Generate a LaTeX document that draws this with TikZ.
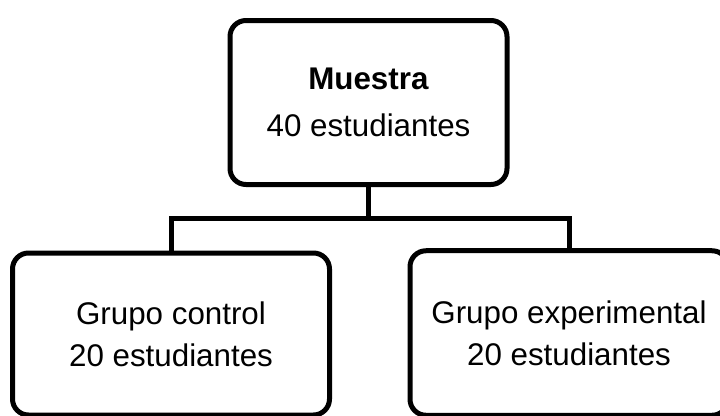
\documentclass[tikz,border=0pt]{standalone}
\usepackage{fontspec}
\setmainfont{Liberation Sans}
\begin{document}
\begin{tikzpicture}[x=0.75pt,y=-0.75pt,
  box/.style={draw=black,line width=3.75pt,rounded corners=12pt,fill=white,
    align=center,inner sep=0pt,font=\fontsize{23.5pt}{31.7pt}\selectfont},
  topbox/.style={box,font=\fontsize{23.5pt}{34.9pt}\selectfont},
  conn/.style={draw=black,line width=3.75pt}]
\useasboundingbox (0,0) rectangle (720,415);
\clip (0,0) rectangle (720,415);
\fill[white] (0,0) rectangle (720,415);
\node[topbox,minimum width=207.75pt,minimum height=123pt] (top) at (368.5,102.5)
  {\textbf{Muestra}\\40 estudiantes};
\node[box,minimum width=237.75pt,minimum height=121.5pt] (left) at (171,334)
  {Grupo control\\20 estudiantes};
\node[box,minimum width=238.5pt,minimum height=123.4pt] (right) at (569,333)
  {Grupo experimental\\20 estudiantes};
\coordinate (j) at (369.5,218.5);
\draw[conn] (top.south) -- (top.south |- j);
\draw[conn] (left.north) -- (left.north |- j) -| (right.north);
\end{tikzpicture}
\end{document}
